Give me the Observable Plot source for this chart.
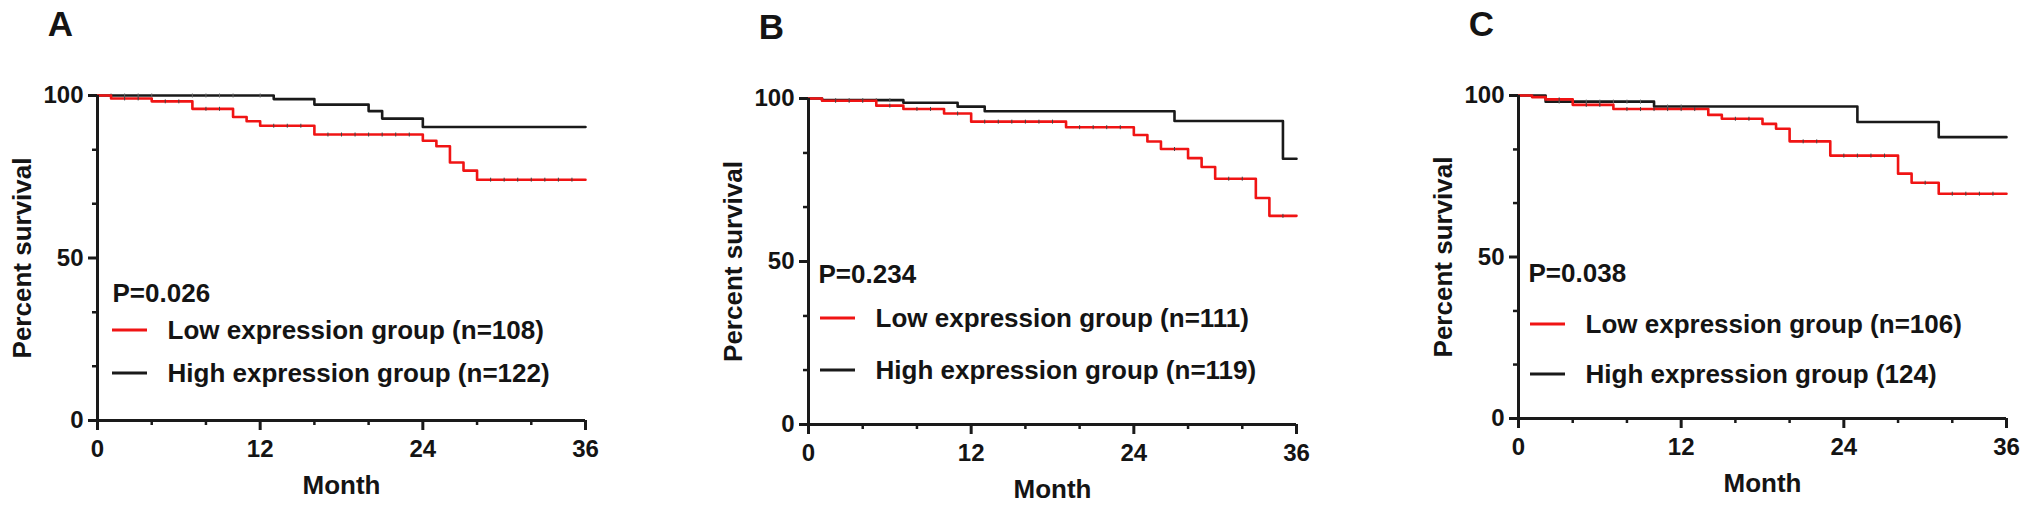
<!DOCTYPE html>
<html><head><meta charset="utf-8">
<script src="https://cdn.jsdelivr.net/npm/d3@7"></script>
<script src="https://cdn.jsdelivr.net/npm/@observablehq/plot@0.6"></script>
<style>
body{margin:0;background:#fff;}
#wrap{position:relative;width:2031px;height:511px;overflow:hidden;background:#fff;}
.panel{position:absolute;top:0;}
</style></head><body><div id="wrap"></div>
<script>
// ---------- data ----------
const panelLabels = ["A", "B", "C"];
const pValues = ["P=0.026", "P=0.234", "P=0.038"];
const lowLabels = ["Low expression group (n=108)", "Low expression group (n=111)", "Low expression group (n=106)"];
const highLabels = ["High expression group (n=122)", "High expression group (n=119)", "High expression group (124)"];
const xLabel = "Month";
const yLabel = "Percent survival";
const xTicks = [0, 12, 24, 36];
const xMinorTicks = [4, 8, 16, 20, 28, 32];
const yTicks = [0, 50, 100];
const yMinorTicks = [16.7, 33.3, 66.7, 83.3];

// Panel A
const lowA_t = [0, 1, 4, 7, 10, 11, 12, 16, 24, 25, 26, 27, 28, 36];
const lowA_s = [100, 99.1, 98.2, 95.9, 93.4, 92.1, 90.7, 88.0, 86.1, 84.4, 79.4, 76.9, 74.1, 74.1];
const highA_t = [0, 13, 16, 20, 21, 24, 36];
const highA_s = [100, 98.9, 97.2, 95.2, 92.9, 90.3, 90.3];
const lowA_cens = [2, 3, 5, 6, 8, 9, 13, 14, 15, 17, 18, 19, 20, 21, 22, 23, 29, 30, 31, 32, 33, 34, 35];
const highA_cens = [1, 2, 3, 4, 7, 8, 9, 10, 12];

// Panel B
const lowB_t = [0, 1, 5, 7, 10, 12, 19, 24, 25, 26, 28, 29, 30, 33, 34, 36];
const lowB_s = [100, 99.3, 97.8, 96.8, 95.4, 92.9, 91.2, 88.8, 86.8, 84.5, 81.7, 79.0, 75.4, 69.5, 64.0, 64.0];
const highB_t = [0, 1, 7, 11, 13, 27, 35, 36];
const highB_s = [100, 99.5, 98.7, 97.5, 96.1, 93.1, 81.5, 81.5];
const lowB_cens = [2, 3, 4, 6, 8, 9, 11, 13, 14, 15, 16, 17, 18, 20, 21, 22, 23, 27, 31, 32, 35];
const highB_cens = [2, 3, 4, 5, 6];

// Panel C
const lowC_t = [0, 1, 2, 4, 7, 14, 15, 18, 19, 20, 23, 28, 29, 31, 36];
const lowC_s = [100, 99.5, 98.8, 97.1, 95.8, 94.0, 92.8, 91.2, 89.7, 85.8, 81.4, 75.8, 73.0, 69.6, 69.6];
const highC_t = [0, 2, 10, 25, 31, 36];
const highC_s = [100, 98.1, 96.6, 91.8, 87.1, 87.1];
const lowC_cens = [3, 5, 6, 8, 9, 10, 11, 12, 13, 16, 17, 21, 22, 24, 25, 26, 27, 30, 32, 33, 34, 35];
const highC_cens = [3, 4, 5, 6, 7, 8, 9, 11, 12];

const panels = [
  {lowT: lowA_t, lowS: lowA_s, highT: highA_t, highS: highA_s, lowC: lowA_cens, highC: highA_cens},
  {lowT: lowB_t, lowS: lowB_s, highT: highB_t, highS: highB_s, lowC: lowB_cens, highC: highB_cens},
  {lowT: lowC_t, lowS: lowC_s, highT: highC_t, highS: highC_s, lowC: lowC_cens, highC: highC_cens}
];

// ---------- layout ----------
const layout = [
  {left: 0,    mt: 95, mb: 91, pDx: 15, pDy: 198, l1Dy: 235, l2Dy: 278, swDx: 15, txDx: 70},
  {left: 711,  mt: 98, mb: 87, pDx: 10, pDy: 176, l1Dy: 220, l2Dy: 272, swDx: 12, txDx: 67},
  {left: 1421, mt: 95, mb: 93, pDx: 10, pDy: 178, l1Dy: 229, l2Dy: 279, swDx: 12, txDx: 67}
];
const FONT = "'Liberation Sans', Arial, Helvetica, sans-serif";
const RED = "#f01414", BLACK = "#1a1a1a", TEXT = "#141414";
const W = 610, H = 511, ML = 97, MR = 25;

function survAt(ts, ss, t) {
  let v = ss[0];
  for (let i = 0; i < ts.length; i++) if (ts[i] <= t) v = ss[i];
  return v;
}
const vtick = {draw(ctx) { ctx.moveTo(0, -2); ctx.lineTo(0, 2); }};

const wrap = document.getElementById("wrap");
panels.forEach((p, i) => {
  const L = layout[i];
  const lowData = p.lowT.map((t, j) => ({t, s: p.lowS[j]}));
  const highData = p.highT.map((t, j) => ({t, s: p.highS[j]}));
  const lowCens = p.lowC.map(t => ({t, s: survAt(p.lowT, p.lowS, t)}));
  const highCens = p.highC.map(t => ({t, s: survAt(p.highT, p.highS, t)}));
  const txt = (arr, o) => Plot.text(arr, {text: d => d, fill: TEXT, fontWeight: "bold", lineAnchor: "middle", ...o});

  const svg = Plot.plot({
    width: W, height: H,
    marginLeft: ML, marginRight: MR, marginTop: L.mt, marginBottom: L.mb,
    style: {fontFamily: FONT, fontWeight: "bold", color: TEXT, background: "transparent", overflow: "visible"},
    x: {domain: [0, 36]},
    y: {domain: [0, 100]},
    marks: [
      Plot.line(highData, {x: "t", y: "s", curve: "step-after", stroke: BLACK, strokeWidth: 2.6}),
      Plot.dot(highCens, {x: "t", y: "s", symbol: vtick, stroke: "#666", strokeWidth: 1, fill: "none"}),
      Plot.line(lowData, {x: "t", y: "s", curve: "step-after", stroke: RED, strokeWidth: 2.6}),
      Plot.dot(lowCens, {x: "t", y: "s", symbol: vtick, stroke: "#444", strokeWidth: 1, fill: "none"}),
      Plot.axisY({ticks: yTicks, tickSize: 9, tickPadding: 5, fontSize: 24, fontWeight: "bold", label: null, strokeWidth: 3, stroke: BLACK, fill: TEXT}),
      Plot.axisY({ticks: yMinorTicks, tickSize: 5, text: null, label: null, strokeWidth: 2.5, stroke: BLACK}),
      Plot.axisX({ticks: xTicks, tickSize: 10, tickPadding: 9, fontSize: 24, fontWeight: "bold", label: null, strokeWidth: 3, stroke: BLACK, fill: TEXT}),
      Plot.axisX({ticks: xMinorTicks, tickSize: 5, text: null, label: null, strokeWidth: 2.5, stroke: BLACK}),
      Plot.ruleX([0], {stroke: BLACK, strokeWidth: 3}),
      Plot.ruleY([0], {stroke: BLACK, strokeWidth: 3}),
      txt([yLabel], {frameAnchor: "left", dx: -75, rotate: -90, textAnchor: "middle", fontSize: 26}),
      txt([xLabel], {frameAnchor: "bottom", dy: 65, textAnchor: "middle", fontSize: 26}),
      txt([panelLabels[i]], {frameAnchor: "top-left", dx: -37, dy: -71, textAnchor: "middle", fontSize: 35}),
      txt([pValues[i]], {frameAnchor: "top-left", dx: L.pDx, dy: L.pDy, textAnchor: "start", fontSize: 26}),
      txt([lowLabels[i]], {frameAnchor: "top-left", dx: L.txDx, dy: L.l1Dy, textAnchor: "start", fontSize: 26}),
      txt([highLabels[i]], {frameAnchor: "top-left", dx: L.txDx, dy: L.l2Dy, textAnchor: "start", fontSize: 26})
    ]
  });
  // legend swatches
  const sw = d3.select(svg);
  [[L.l1Dy, RED], [L.l2Dy, BLACK]].forEach(([dy, c]) => {
    sw.append("line")
      .attr("x1", ML + L.swDx).attr("x2", ML + L.swDx + 35)
      .attr("y1", L.mt + dy).attr("y2", L.mt + dy)
      .attr("stroke", c).attr("stroke-width", 3);
  });
  const div = document.createElement("div");
  div.className = "panel";
  div.style.left = L.left + "px";
  div.appendChild(svg);
  wrap.appendChild(div);
});
</script>
</body></html>
